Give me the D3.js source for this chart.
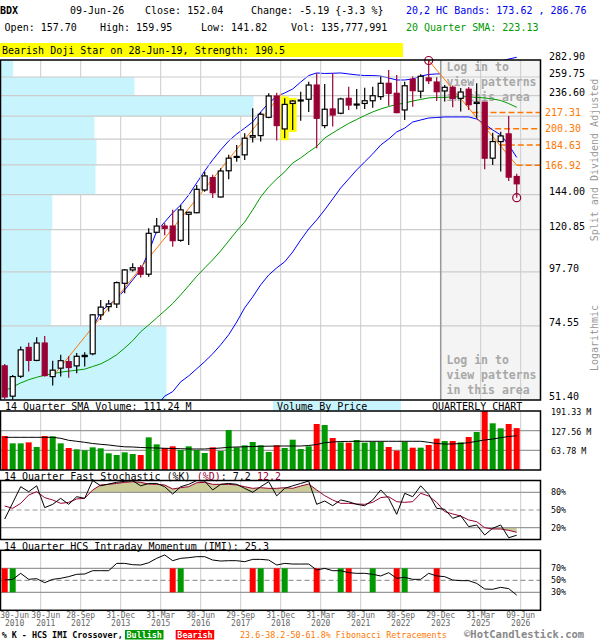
<!DOCTYPE html>
<html lang="en">
<head>
<meta charset="UTF-8">
<title>BDX Quarterly Chart</title>
<script src="https://d3js.org/d3.v7.min.js"></script>
<style>
  body { margin: 0; background: #fff; }
  svg text { font-family: "DejaVu Sans Mono", "Liberation Mono", monospace; }
</style>
</head>
<body>
<div id="chart"></div>
<script>
// quarterly candles, 30-Jun-2010 .. 09-Jun-2026
var open  = [61.0, 52.4, 57.9, 66.9, 62.7, 68.4, 57.8, 60.3, 62.3, 61.0,
             63.9, 64.8, 78.8, 82.1, 83.2, 92.3, 98.7, 99.8, 96.6, 119.2,
             123.0, 123.0, 114.5, 130.5, 131.5, 147.4, 156.8, 142.3, 162.3, 173.8,
             175.8, 192.1, 193.6, 212.2, 236.2, 200.2, 227.5, 231.1, 232.3, 249.5,
             203.6, 221.3, 216.6, 233.4, 226.6, 227.5, 230.6, 235.4, 251.7, 239.4,
             220.2, 256.8, 241.9, 258.5, 253.3, 242.2, 246.7, 233.4, 244.3, 227.5,
             229.0, 172.9, 187.9, 195.3, 157.70];
var high  = [61.6, 58.3, 67.2, 68.5, 70.4, 70.9, 62.6, 64.5, 64.0, 65.1,
             65.3, 79.1, 84.9, 84.9, 93.1, 99.1, 102.1, 101.2, 121.6, 128.0,
             124.7, 133.4, 136.7, 132.2, 151.2, 161.6, 159.0, 164.4, 175.8, 184.8,
             195.9, 222.1, 218.0, 239.4, 240.1, 233.4, 231.5, 241.3, 253.7, 264.6,
             250.7, 264.6, 234.2, 247.4, 244.6, 246.1, 247.4, 260.4, 269.1, 262.3,
             253.7, 260.4, 263.3, 282.2, 259.4, 249.5, 248.9, 245.7, 247.0, 251.7,
             229.4, 196.4, 197.4, 213.6, 159.95];
var low   = [51.6, 51.5, 57.4, 59.3, 62.4, 57.8, 55.3, 57.8, 57.5, 58.8,
             60.8, 64.3, 76.8, 80.1, 81.5, 87.8, 97.9, 95.0, 95.4, 118.6,
             117.5, 110.9, 113.7, 111.9, 131.2, 146.1, 141.6, 142.0, 155.6, 169.9,
             171.4, 187.0, 187.9, 211.2, 188.9, 191.1, 199.2, 208.7, 218.0, 181.8,
             200.9, 202.6, 215.5, 220.2, 220.9, 221.3, 222.7, 231.5, 225.0, 216.6,
             209.4, 223.8, 233.4, 250.7, 230.3, 229.7, 223.2, 218.4, 220.2, 211.2,
             163.5, 167.1, 161.8, 154.2, 141.82];
var close = [52.2, 57.8, 66.1, 62.7, 68.4, 58.1, 59.7, 62.6, 60.5, 64.0,
             64.3, 78.8, 81.9, 83.2, 92.6, 98.7, 99.8, 96.6, 118.6, 123.0,
             121.6, 114.3, 133.4, 131.8, 147.9, 158.2, 145.4, 162.1, 172.9, 174.4,
             191.1, 193.6, 215.5, 236.2, 203.6, 226.4, 230.3, 231.5, 249.5, 211.2,
             221.0, 214.7, 232.7, 225.7, 226.8, 230.6, 236.5, 251.7, 239.4, 217.3,
             248.6, 242.6, 260.7, 255.0, 241.3, 246.7, 233.4, 240.9, 226.1, 229.0,
             172.9, 187.9, 193.3, 157.23, 152.04];

// volume in millions, and its 14 quarter SMA
var volume = [110.3, 86.5, 86.5, 89.7, 74.6, 110.3, 109.2, 86.5, 71.3, 67.0,
              63.8, 73.5, 70.3, 54.1, 48.6, 57.3, 51.9, 48.6, 105.9, 83.2,
              71.3, 76.8, 64.9, 76.8, 64.9, 55.1, 73.5, 61.6, 129.7, 73.5,
              80.0, 90.8, 80.0, 58.4, 80.0, 71.3, 98.3, 68.1, 76.8, 149.2,
              145.9, 103.8, 89.7, 88.6, 97.3, 88.6, 91.9, 91.9, 74.6, 62.7,
              91.9, 72.4, 72.4, 81.1, 101.6, 94.1, 94.1, 89.7, 107.0, 123.2,
              191.3, 151.4, 135.1, 149.2, 135.8];
var volSma = [106, 106, 106, 106, 106, 106, 106, 102.8, 96.3, 93.1,
              89.8, 85.9, 83.3, 81.1, 77.8, 75.2, 74.6, 73.0, 72.0, 71.3,
              70.4, 69.7, 69.1, 68.1, 68.1, 68.1, 69.7, 71.3, 73.6, 74.6,
              75.2, 76.2, 76.9, 77.2, 77.8, 77.8, 77.8, 77.8, 79.5, 82.7,
              88.5, 90.8, 92.4, 92.7, 93.1, 93.1, 93.1, 93.1, 93.1, 93.1,
              93.1, 93.1, 93.1, 89.8, 85.9, 84.3, 84.3, 85.9, 88.5, 93.1,
              97.3, 100.5, 104.7, 108.6, 111.24];

// 20,2 bands and 20 quarter SMA
var upperBand = [67.8, 66.7, 67.8, 68.0, 68.1, 68.2, 68.5, 68.6, 68.8, 69.0,
                 69.5, 73.8, 80.0, 82.8, 85.3, 89.3, 93.9, 98.7, 108.0, 120.0,
                 125.5, 131.4, 136.7, 143.7, 152.7, 162.2, 171.4, 180.2, 188.5, 195.2,
                 201.0, 207.3, 218.0, 228.0, 235.6, 239.8, 244.6, 253.3, 261.7, 265.1,
                 264.4, 264.7, 265.1, 263.8, 262.5, 261.7, 261.7, 261.0, 258.5, 255.9,
                 255.9, 257.2, 261.0, 263.1, 263.8, 263.8, 263.1, 262.5, 265.1, 269.8,
                 273.1, 277.3, 280.8, 284.3, 286.76];
var lowerBand = [null, null, null, null, null, null, null, null, null, null,
                 null, null, null, null, null, null, null, null, null, 50.0,
                 52.4, 53.6, 56.3, 58.0, 60.1, 62.3, 64.8, 67.8, 71.3, 76.0,
                 81.6, 86.2, 91.6, 96.2, 99.7, 102.8, 108.0, 114.7, 121.2, 126.8,
                 133.4, 140.9, 148.9, 155.8, 163.0, 169.7, 176.6, 184.7, 190.3, 197.2,
                 201.0, 207.3, 209.4, 211.5, 212.0, 212.6, 212.6, 212.6, 212.6, 210.4,
                 205.2, 199.2, 194.3, 184.7, 173.62];
var sma20 = [53.8, 54.9, 56.0, 56.9, 57.6, 58.2, 58.6, 59.1, 59.4, 59.7,
             60.0, 60.8, 61.6, 62.9, 64.5, 66.7, 69.2, 72.4, 74.9, 77.6,
             80.4, 83.4, 87.1, 91.2, 95.6, 99.7, 103.8, 108.6, 114.1, 120.0,
             125.5, 133.4, 142.3, 149.7, 155.8, 161.4, 168.8, 173.1, 178.4, 183.4,
             191.3, 196.2, 201.0, 205.8, 209.9, 214.1, 218.0, 221.3, 224.0, 226.3,
             228.0, 230.3, 232.1, 233.9, 234.5, 234.5, 235.1, 235.4, 235.1, 234.5,
             233.9, 232.7, 230.9, 227.4, 223.13];

// 14 quarter fast stochastic and HCS intraday momentum (%)
var stochK = [34.7, 62, 89.5, 81, 91, 54, 59.6, 69.8, 59.6, 72.5,
              69.8, 100, 91, 94, 97, 98.6, 99.7, 91, 95, 95,
              89.5, 77, 89.5, 93.5, 100, 99, 84, 93.5, 95, 93.5,
              86.7, 80, 89.5, 98, 74, 86.7, 91, 95, 99, 59.6,
              65.3, 57.3, 67, 64, 59.6, 57.3, 67, 84, 69.8, 42.7,
              78.3, 72.5, 91, 76.6, 52.9, 51.2, 35.9, 40.4, 21.8, 24.6,
              7.6, 19, 24.6, 3, 7.2];
var stochD = [56.8, 52.9, 61.3, 75.4, 81, 71, 67, 61.3, 63, 68.7,
              69.8, 84, 92.4, 93.5, 95, 96.8, 98, 96.8, 94, 93.5,
              92.4, 85.6, 87.8, 89.5, 96.2, 96.8, 93.5, 93.5, 93.5, 92.4,
              89.5, 86.7, 87.8, 86.7, 86.7, 87.8, 86.7, 90.7, 94, 84,
              74.3, 67, 61.3, 61.3, 60.2, 59.6, 63, 71, 72.5, 64.1,
              63, 64.1, 78.3, 73.7, 63, 47.2, 43.3, 39.8, 33.1, 30.2,
              20, 17.8, 17.8, 15.5, 12.2];
var imi = [50.5, 51.6, 61.6, 51.6, 52.7, 46, 51.6, 53.3, 56.1, 60,
           60.5, 66, 66, 66, 78.2, 78.2, 76, 75.5, 79.3, 86.6,
           92.2, 82.7, 86.6, 87.7, 89.4, 89.4, 83.8, 82.1, 82.7, 82.7,
           81, 84.9, 84.9, 83.8, 75.5, 78.2, 77.1, 77.1, 77.1, 67.2,
           69.9, 66, 66, 62.7, 61.6, 61.6, 60, 57.2, 62.7, 53.3,
           55, 51.6, 51.6, 61.6, 57.2, 56.1, 50.5, 49.4, 49.4, 44.9,
           35.5, 35, 38.3, 36.1, 25.3];
var crossIdx  = [0, 1, 21, 22, 31, 32, 34, 35, 39, 42, 43, 46, 49, 50, 54];
var crossType = ["bear", "bull", "bear", "bull", "bear", "bull", "bear", "bull",
                 "bear", "bull", "bear", "bull", "bear", "bull", "bear"];

// price axis, fibonacci levels, volume by price (per band between ticks, bottom to top)
var priceTicks = [51.40, 74.55, 97.70, 120.85, 144.00, 167.15, 190.30, 213.45, 236.60, 259.75, 282.90];
var fibLevels = [217.31, 200.30, 184.63, 166.92];
var vbpVolume = [1312, 401, 401, 409, 751, 759, 743, 2000, 1059, 100];
var volTicks = [63.78, 127.56, 191.33];
var stochTicks = [20, 50, 80];
var imiTicks = [30, 50, 70];

// trend lines [candle index, price]
var trendUp = [[6, 57.8], [34.7, 239.8]];
var trendDown = [[53, 282.2], [64, 166.92]];
var patternIdx = [35, 36];

var tickIdx  = [0, 4, 9, 14, 19, 24, 29, 34, 39, 44, 49, 54, 59, 64];
var tickDay  = ["30-Jun", "30-Jun", "28-Sep", "31-Dec", "31-Mar", "30-Jun", "29-Sep",
                "31-Dec", "31-Mar", "30-Jun", "30-Sep", "29-Dec", "31-Mar", "09-Jun"];
var tickYear = ["2010", "2011", "2012", "2013", "2015", "2016", "2017",
                "2018", "2020", "2021", "2022", "2023", "2025", "2026"];

var maroon = "#990033", upGreen = "#009900", dnRed = "#ff0000",
    gridC = "#cccccc", gridD = "#999999", orange = "#ff7700", vbpC = "#c8f5fd";

var L = 0.5, R = 540.5;
var x  = d3.scaleLinear().domain([0, 64]).range([4.7, 516.7]);
var yP = d3.scaleLog().domain([51.4, 282.9]).range([400, 60]);
var yV = d3.scaleLinear().domain([0, 191.33]).range([470, 411]);
var yS = d3.scaleLinear().domain([0, 100]).range([539.5, 480.5]);
var yM = d3.scaleLinear().domain([0, 100]).range([610.3, 550.3]);
var wVbp = d3.scaleLinear().domain([0, d3.max(vbpVolume)]).range([0, 253]);
function gx(i) { return x(i) + 4; }

var svg = d3.select("#chart").append("svg").attr("width", 600).attr("height", 640);

function label(g, px, py, s, size, fill, anchor, weight) {
    return g.append("text").attr("x", px).attr("y", py).attr("dy", "0.35em")
        .attr("font-size", size || 10).attr("fill", fill || "#000")
        .attr("text-anchor", anchor || "start").attr("font-weight", weight || "normal")
        .text(s);
}
function hline(g, y, x1, x2, color, dash, w) {
    g.append("line").attr("x1", x1).attr("x2", x2).attr("y1", y).attr("y2", y)
        .attr("stroke", color).attr("stroke-width", w || 1)
        .attr("stroke-dasharray", dash || null);
}
function vgrid(g, y1, y2) {
    tickIdx.slice(1).forEach(function(i) {
        g.append("line").attr("x1", gx(i)).attr("x2", gx(i)).attr("y1", y1).attr("y2", y2)
            .attr("stroke", gridC).attr("stroke-width", 1);
    });
}
function frame(g, y1, y2) {
    g.append("rect").attr("x", L).attr("y", y1).attr("width", R - L).attr("height", y2 - y1)
        .attr("fill", "none").attr("stroke", "#000").attr("stroke-width", 1.5);
}

// ---------- header ----------
label(svg, 0, 10.5, "BDX", 10, "#000", "start", "bold");
label(svg, 70, 10.5, "09-Jun-26");
label(svg, 145, 10.5, "Close: 152.04");
label(svg, 251, 10.5, "Change: -5.19 {-3.3 %}");
label(svg, 406, 10.5, "20,2 HC Bands: 173.62 , 286.76", 10, "#0000ee");
label(svg, 4.6, 27, "Open: 157.70");
label(svg, 100, 27, "High: 159.95");
label(svg, 201, 27, "Low: 141.82");
label(svg, 291, 27, "Vol: 135,777,991");
label(svg, 406, 27, "20 Quarter SMA: 223.13", 10, upGreen);

svg.append("rect").attr("x", 0).attr("y", 43).attr("width", 403).attr("height", 14).attr("fill", "#ffff00");
label(svg, 2, 50, "Bearish Doji Star on 28-Jun-19, Strength: 190.5");

// ---------- price panel ----------
var defs = svg.append("defs");
defs.append("clipPath").attr("id", "clipP").append("rect")
    .attr("x", L).attr("y", 60).attr("width", R - L).attr("height", 340);

var pg = svg.append("g");
var pc = svg.append("g").attr("clip-path", "url(#clipP)");

pc.append("rect").attr("x", gx(54)).attr("y", 60).attr("width", R - gx(54)).attr("height", 340)
    .attr("fill", "#f4f4f4");
vgrid(pc, 60, 400);

vbpVolume.forEach(function(v, k) {
    var y1 = yP(priceTicks[k + 1]), y2 = yP(priceTicks[k]);
    pc.append("rect").attr("x", L).attr("y", y1).attr("width", wVbp(v)).attr("height", y2 - y1)
        .attr("fill", vbpC);
});
priceTicks.slice(1, -1).forEach(function(t) { hline(pc, yP(t), L, R, gridC, null, 1.2); });
pc.append("line").attr("x1", gx(54)).attr("x2", gx(54)).attr("y1", 60).attr("y2", 400)
    .attr("stroke", gridD).attr("stroke-width", 1.5);

// fibonacci dashed levels start where the down trend line crosses them
var tx1 = x(trendDown[0][0]), ty1 = yP(trendDown[0][1]),
    tx2 = x(trendDown[1][0]), ty2 = yP(trendDown[1][1]);
fibLevels.forEach(function(f) {
    var yf = yP(f), xs = tx1 + (yf - ty1) / (ty2 - ty1) * (tx2 - tx1);
    hline(pc, yf, xs, R, orange, "6,3", 1.5);
});

["Log in to", "view patterns", "in this area"].forEach(function(s, k) {
    label(pc, 446.5, 67 + 15 * k, s, 11.5, "#a8a8a8", "start", "bold");
    label(pc, 446.5, 359.5 + 15 * k, s, 11.5, "#a8a8a8", "start", "bold");
});

patternIdx.forEach(function(i) {
    pc.append("rect").attr("x", x(i) - 4).attr("y", yP(high[i]) - 2)
        .attr("width", 8).attr("height", yP(low[i]) - yP(high[i]) + 4).attr("fill", "#ffff00");
});

var line = d3.line().defined(function(d) { return d != null; })
    .x(function(d, i) { return x(i); }).y(function(d) { return yP(d); });
pc.append("path").attr("d", line(sma20)).attr("fill", "none").attr("stroke", upGreen).attr("stroke-width", 1);
pc.append("path").attr("d", line(lowerBand)).attr("fill", "none").attr("stroke", "#0000ff").attr("stroke-width", 1);
pg.append("path").attr("d", line(upperBand)).attr("fill", "none").attr("stroke", "#0000ff").attr("stroke-width", 1);

var tline = d3.line().x(function(d) { return x(d[0]); }).y(function(d) { return yP(d[1]); });
pc.append("path").attr("d", tline(trendUp)).attr("fill", "none").attr("stroke", orange).attr("stroke-width", 1);
pc.append("path").attr("d", tline(trendDown)).attr("fill", "none").attr("stroke", orange).attr("stroke-width", 1);

// candles
var cg = svg.append("g");
open.forEach(function(o, i) {
    var c = close[i], up = c >= o, col = up ? "#000" : maroon;
    cg.append("line").attr("x1", x(i)).attr("x2", x(i))
        .attr("y1", yP(high[i])).attr("y2", yP(low[i]))
        .attr("stroke", col).attr("stroke-width", 1.2);
    var top = yP(Math.max(o, c)), bot = yP(Math.min(o, c));
    cg.append("rect").attr("x", x(i) - 2.5).attr("y", top)
        .attr("width", 5).attr("height", Math.max(bot - top, 1))
        .attr("fill", up ? "#fff" : maroon).attr("stroke", col).attr("stroke-width", 1.2);
});
svg.append("circle").attr("cx", x(53)).attr("cy", yP(high[53])).attr("r", 4)
    .attr("fill", "none").attr("stroke", maroon).attr("stroke-width", 1.2);
svg.append("circle").attr("cx", x(64)).attr("cy", yP(low[64])).attr("r", 4)
    .attr("fill", "none").attr("stroke", maroon).attr("stroke-width", 1.2);

frame(svg, 60, 400);

// right price axis
priceTicks.forEach(function(t) {
    var ly = yP(t) - 3.5;
    var near = fibLevels.some(function(f) { return Math.abs(yP(f) - ly) < 12; });
    if (!near) label(svg, 549, ly, t.toFixed(2), 10);
});
fibLevels.forEach(function(f) { label(svg, 545, yP(f), f.toFixed(2), 10, orange); });
label(svg, 0, 0, "Split and Dividend Adjusted", 10, "#999", "middle")
    .attr("transform", "translate(594,160) rotate(-90)").attr("x", 0).attr("y", 0);
label(svg, 0, 0, "Logarithmic", 10, "#999", "middle")
    .attr("transform", "translate(594,338) rotate(-90)").attr("x", 0).attr("y", 0);

// ---------- volume panel ----------
label(svg, 5, 406.5, "14 Quarter SMA Volume: 111.24 M");
svg.append("rect").attr("x", 273).attr("y", 401).attr("width", 128).attr("height", 10.5).attr("fill", vbpC);
label(svg, 277, 406.5, "Volume By Price");
label(svg, 432, 406.5, "QUARTERLY CHART");

var vg = svg.append("g");
vgrid(vg, 411, 470);
volTicks.slice(0, 2).forEach(function(t) { hline(vg, yV(t), L, R, gridD, null, 1.2); });
volume.forEach(function(v, i) {
    vg.append("rect").attr("x", x(i) - 3).attr("y", yV(v)).attr("width", 6)
        .attr("height", yV(0) - yV(v)).attr("fill", close[i] >= open[i] ? upGreen : dnRed);
});
vg.append("path").attr("d", d3.line().x(function(d, i) { return x(i); }).y(function(d) { return yV(d); })(volSma))
    .attr("fill", "none").attr("stroke", "#000").attr("stroke-width", 1);
frame(svg, 411, 470);
volTicks.forEach(function(t) { label(svg, 551, yV(t) + 1.2, t.toFixed(2) + " M", 8.4); });

// ---------- stochastic panel ----------
var sh = label(svg, 4, 476.7, "", 10);
sh.append("tspan").text("14 Quarter Fast Stochastic (%K) ");
sh.append("tspan").attr("fill", maroon).text("(%D)");
sh.append("tspan").text(": " + stochK[64].toFixed(1) + "   ");
sh.append("tspan").attr("fill", maroon).text(stochD[64].toFixed(1));

var sg = svg.append("g");
vgrid(sg, 480.5, 539.5);
defs.append("clipPath").attr("id", "clipHi").append("rect")
    .attr("x", L).attr("y", 470).attr("width", R - L).attr("height", yS(80) - 470);
defs.append("clipPath").attr("id", "clipLo").append("rect")
    .attr("x", L).attr("y", yS(20)).attr("width", R - L).attr("height", 545 - yS(20));
var areaHi = d3.area().x(function(d, i) { return x(i); }).y0(yS(80)).y1(function(d) { return yS(d); });
var areaLo = d3.area().x(function(d, i) { return x(i); }).y0(yS(20)).y1(function(d) { return yS(d); });
sg.append("path").attr("d", areaHi(stochD)).attr("fill", "#cccc99").attr("clip-path", "url(#clipHi)");
sg.append("path").attr("d", areaLo(stochD)).attr("fill", "#cccc99").attr("clip-path", "url(#clipLo)");
hline(sg, yS(80), L, R, gridD, null, 1.2);
hline(sg, yS(20), L, R, gridD, null, 1.2);
hline(sg, yS(50), L, R, gridD, "5,3", 1.2);
var sline = d3.line().x(function(d, i) { return x(i); }).y(function(d) { return yS(d); });
sg.append("path").attr("d", sline(stochD)).attr("fill", "none").attr("stroke", maroon).attr("stroke-width", 1);
sg.append("path").attr("d", sline(stochK)).attr("fill", "none").attr("stroke", "#000").attr("stroke-width", 1);
frame(svg, 480.5, 539.5);
stochTicks.forEach(function(t) { label(svg, 551, yS(t), t + "%", 8.4); });

// ---------- momentum panel ----------
label(svg, 4, 546, "14 Quarter HCS Intraday Momentum (IMI): " + imi[64].toFixed(1));
var mg = svg.append("g");
vgrid(mg, 550.3, 610.3);
hline(mg, yM(70), L, R, gridD, null, 1.2);
hline(mg, yM(30), L, R, gridD, null, 1.2);
hline(mg, yM(50), L, R, gridD, "5,3", 1.2);
crossIdx.forEach(function(i, k) {
    mg.append("rect").attr("x", x(i) - 3).attr("y", yM(70)).attr("width", 6)
        .attr("height", yM(30) - yM(70)).attr("fill", crossType[k] == "bull" ? upGreen : dnRed);
});
mg.append("path").attr("d", d3.line().x(function(d, i) { return x(i); }).y(function(d) { return yM(d); })(imi))
    .attr("fill", "none").attr("stroke", "#000").attr("stroke-width", 1);
frame(svg, 550.3, 610.3);
imiTicks.forEach(function(t) { label(svg, 551, yM(t), t + "%", 8.4); });

// ---------- date axis ----------
var half = 14.6, prevRight = -10;
tickIdx.forEach(function(i, k) {
    var cx = Math.max(gx(i), half);
    if (cx - half < prevRight + 2) cx = prevRight + 2 + half;
    prevRight = cx + half;
    label(svg, cx, 615, tickDay[k], 8, "#666", "middle");
    label(svg, cx, 623, tickYear[k], 8, "#666", "middle");
});

// ---------- legend ----------
label(svg, 1.7, 635, "% K - HCS IMI Crossover,", 8.4, "#000", "start", "bold");
svg.append("rect").attr("x", 125).attr("y", 630).attr("width", 38.5).attr("height", 9.5).attr("fill", upGreen);
label(svg, 144.2, 634.8, "Bullish", 8.4, "#fff", "middle", "bold");
svg.append("rect").attr("x", 175.7).attr("y", 630).attr("width", 38.5).attr("height", 9.5).attr("fill", dnRed);
label(svg, 195, 634.8, "Bearish", 8.4, "#fff", "middle", "bold");
label(svg, 240, 635, "23.6-38.2-50-61.8% Fibonacci Retracements", 8.4, orange);
label(svg, 464, 634.4, "\u00a9HotCandlestick.com", 10.5, "#888", "start", "bold");
</script>
</body>
</html>
